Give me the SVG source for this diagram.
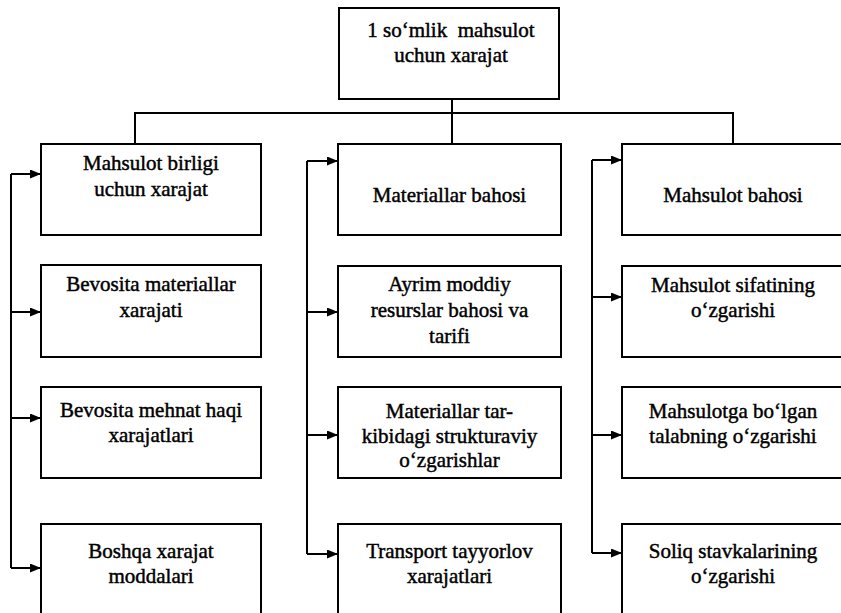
<svg xmlns="http://www.w3.org/2000/svg" width="841" height="613" viewBox="0 0 841 613">
<defs>
<style>
.box{fill:#fff;stroke:#000;stroke-width:2}
.t{font-family:"Liberation Serif","Times New Roman",serif;font-size:21px;fill:#000;stroke:#000;stroke-width:0.45;text-anchor:middle}
.c{fill:none;stroke:#000;stroke-width:2}
</style>
<marker id="ah" markerUnits="userSpaceOnUse" markerWidth="12" markerHeight="10" refX="11" refY="4.5" orient="auto">
<path d="M0,0 L11,4.5 L0,9 z" fill="#000"/>
</marker>
</defs>
<rect width="841" height="613" fill="#fff"/>
<g id="connectors">
<polyline class="c" points="452,99 452,144"/>
<polyline class="c" points="135,144 135,113 733,113 733,144"/>
<polyline class="c" points="11,174 11,568"/>
<line class="c" x1="11" y1="174" x2="41" y2="174" marker-end="url(#ah)"/>
<line class="c" x1="11" y1="312" x2="41" y2="312" marker-end="url(#ah)"/>
<line class="c" x1="11" y1="418" x2="41" y2="418" marker-end="url(#ah)"/>
<line class="c" x1="11" y1="568" x2="41" y2="568" marker-end="url(#ah)"/>
<polyline class="c" points="307,161 307,554"/>
<line class="c" x1="307" y1="161" x2="338" y2="161" marker-end="url(#ah)"/>
<line class="c" x1="307" y1="312" x2="338" y2="312" marker-end="url(#ah)"/>
<line class="c" x1="307" y1="435" x2="338" y2="435" marker-end="url(#ah)"/>
<line class="c" x1="307" y1="554" x2="338" y2="554" marker-end="url(#ah)"/>
<polyline class="c" points="592,160 592,553"/>
<line class="c" x1="592" y1="160" x2="622" y2="160" marker-end="url(#ah)"/>
<line class="c" x1="592" y1="297" x2="622" y2="297" marker-end="url(#ah)"/>
<line class="c" x1="592" y1="435" x2="622" y2="435" marker-end="url(#ah)"/>
<line class="c" x1="592" y1="553" x2="622" y2="553" marker-end="url(#ah)"/>
</g>
<g id="top">
<rect class="box" x="339" y="8" width="220" height="91"/>
<text class="t" x="451" y="37" xml:space="preserve">1 so‘mlik  mahsulot</text>
<text class="t" x="451" y="62">uchun xarajat</text>
</g>
<g id="left1">
<rect class="box" x="41" y="144" width="220" height="91"/>
<text class="t" x="151" y="170">Mahsulot birligi</text>
<text class="t" x="151" y="196">uchun xarajat</text>
</g>
<g id="left2">
<rect class="box" x="41" y="265" width="220" height="92"/>
<text class="t" x="151" y="291">Bevosita materiallar</text>
<text class="t" x="151" y="317">xarajati</text>
</g>
<g id="left3">
<rect class="box" x="41" y="387" width="220" height="91"/>
<text class="t" x="151" y="417">Bevosita mehnat haqi</text>
<text class="t" x="151" y="442">xarajatlari</text>
</g>
<g id="left4">
<rect class="box" x="41" y="524" width="220" height="100"/>
<text class="t" x="151" y="558">Boshqa xarajat</text>
<text class="t" x="151" y="583">moddalari</text>
</g>
<g id="mid1">
<rect class="box" x="338" y="144" width="223" height="91"/>
<text class="t" x="449.5" y="202">Materiallar bahosi</text>
</g>
<g id="mid2">
<rect class="box" x="338" y="266" width="223" height="91"/>
<text class="t" x="449.5" y="291">Ayrim moddiy</text>
<text class="t" x="449.5" y="317">resurslar bahosi va</text>
<text class="t" x="449.5" y="343">tarifi</text>
</g>
<g id="mid3">
<rect class="box" x="338" y="387" width="223" height="91"/>
<text class="t" x="449.5" y="418">Materiallar tar-</text>
<text class="t" x="449.5" y="443">kibidagi strukturaviy</text>
<text class="t" x="449.5" y="467">o‘zgarishlar</text>
</g>
<g id="mid4">
<rect class="box" x="338" y="524" width="223" height="100"/>
<text class="t" x="449.5" y="558">Transport tayyorlov</text>
<text class="t" x="449.5" y="583">xarajatlari</text>
</g>
<g id="right1">
<rect class="box" x="622" y="144" width="228" height="91"/>
<text class="t" x="733" y="202">Mahsulot bahosi</text>
</g>
<g id="right2">
<rect class="box" x="622" y="266" width="228" height="91"/>
<text class="t" x="733" y="292">Mahsulot sifatining</text>
<text class="t" x="733" y="317">o‘zgarishi</text>
</g>
<g id="right3">
<rect class="box" x="622" y="387" width="228" height="91"/>
<text class="t" x="733" y="418">Mahsulotga bo‘lgan</text>
<text class="t" x="733" y="443">talabning o‘zgarishi</text>
</g>
<g id="right4">
<rect class="box" x="622" y="524" width="228" height="100"/>
<text class="t" x="733" y="558">Soliq stavkalarining</text>
<text class="t" x="733" y="583">o‘zgarishi</text>
</g>
</svg>
